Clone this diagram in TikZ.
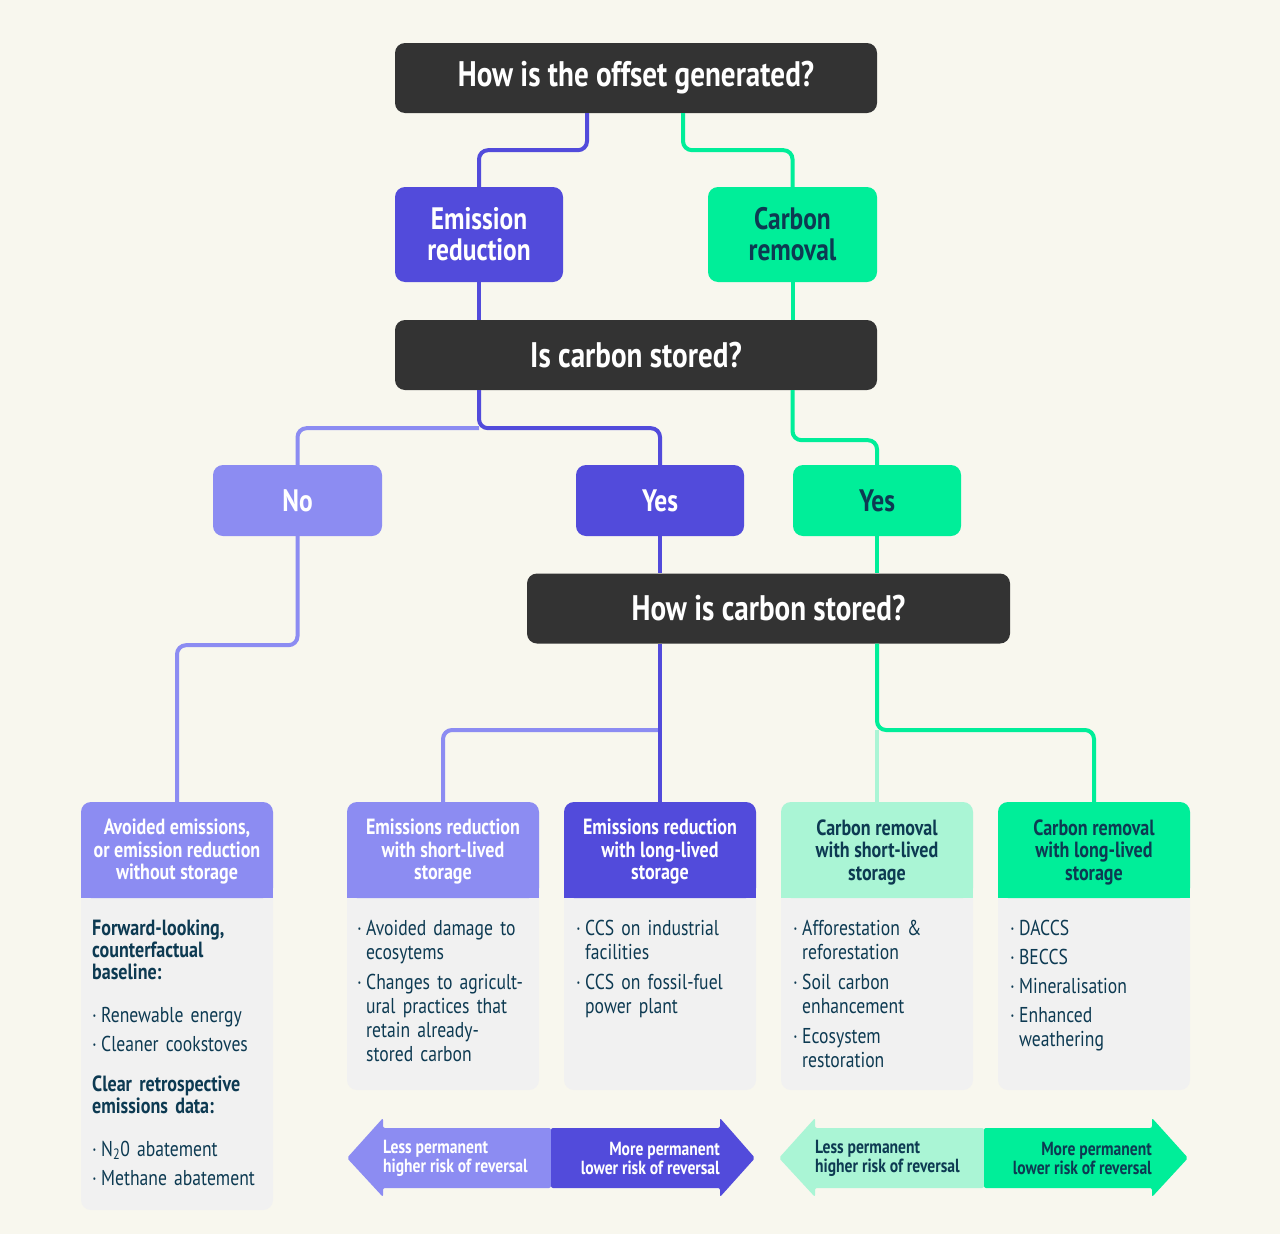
\documentclass[tikz,border=0pt]{standalone}
\usepackage{fontspec}
\setmainfont{PT Sans}[FakeStretch=0.82]
\usetikzlibrary{calc}
\definecolor{bg}{HTML}{F8F7EE}
\definecolor{dark}{HTML}{333333}
\definecolor{pur}{HTML}{524BDB}
\definecolor{lpur}{HTML}{8C8CF2}
\definecolor{grn}{HTML}{00EE99}
\definecolor{lgrn}{HTML}{AAF5D5}
\definecolor{navy}{HTML}{0D3A52}
\definecolor{bodyg}{HTML}{F1F1F1}
\newcommand\bi[1]{\par\noindent\makebox[9pt][l]{·}\parbox[t]{165pt}{\raggedright\strut #1\strut}\par\vspace{5pt}}
\begin{document}
\begin{tikzpicture}[x=1pt,y=-1pt,
  q/.style={fill=dark, rounded corners=10pt, text=white, font=\bfseries\fontsize{35.5}{37}\selectfont, minimum height=70pt, inner sep=0pt},
  cbox/.style={rounded corners=10pt, align=center, inner sep=0pt, font=\bfseries\fontsize{31}{31}\selectfont},
  hdrtxt/.style={align=center, inner sep=0pt, font=\bfseries\fontsize{22}{22.5}\selectfont},
  hdr/.style={rounded corners=10pt, inner sep=0pt, minimum width=192pt, minimum height=96pt},
  bodytxt/.style={anchor=north west, text width=176pt, align=left, inner sep=0pt, text=navy, font=\fontsize{21.5}{24}\selectfont},
  headtxt/.style={anchor=north west, text width=176pt, align=left, inner sep=0pt, text=navy, font=\bfseries\fontsize{22}{22}\selectfont},
  ln/.style={line width=4pt, rounded corners=9pt},
  arrtxt/.style={align=left, inner sep=0pt, font=\bfseries\fontsize{19}{19}\selectfont}
]
\fill[bg] (0,0) rectangle (1280,1234);
\useasboundingbox (0,0) rectangle (1280,1234);

% question boxes
\node[q, minimum width=482pt] (t1) at (636,78) {How is the offset generated?};
\node[q, minimum width=482pt] (t2) at (636,355) {Is carbon stored?};
\node[q, minimum width=483pt] (t3) at (768.5,608.5) {How is carbon stored?};

% category boxes
\node[cbox, fill=pur, text=white, minimum width=168pt, minimum height=95pt] (er) at (479,234.5) {Emission\\reduction};
\node[cbox, fill=grn, text=navy, minimum width=169pt, minimum height=95pt] (cr) at (792.5,234.5) {Carbon\\removal};
\node[cbox, fill=lpur, text=white, minimum width=169pt, minimum height=71pt] (no) at (297.5,500.5) {No};
\node[cbox, fill=pur, text=white, minimum width=168pt, minimum height=71pt] (yes1) at (660,500.5) {Yes};
\node[cbox, fill=grn, text=navy, minimum width=168pt, minimum height=71pt] (yes2) at (877,500.5) {Yes};

% bottom cards: bodies
\fill[bodyg, rounded corners=10pt] (81,802) rectangle (273,1210);
\fill[bodyg, rounded corners=10pt] (347,802) rectangle (539,1090);
\fill[bodyg, rounded corners=10pt] (564,802) rectangle (756,1090);
\fill[bodyg, rounded corners=10pt] (781,802) rectangle (973,1090);
\fill[bodyg, rounded corners=10pt] (998,802) rectangle (1190,1090);

% headers
\node[hdr, fill=lpur] (A) at (177,850) {};
\fill[lpur] (A.west) rectangle (A.south east);
\node[hdrtxt, text=white] (At) at (177,852) {Avoided emissions,\\or emission reduction\\without storage};
\node[hdr, fill=lpur] (B) at (443,850) {};
\fill[lpur] (B.west) rectangle (B.south east);
\node[hdrtxt, text=white] (Bt) at (443,852) {Emissions reduction\\with short-lived\\storage};
\node[hdr, fill=pur] (C) at (660,850) {};
\fill[pur] (C.west) rectangle (C.south east);
\node[hdrtxt, text=white] (Ct) at (660,852) {Emissions reduction\\with long-lived\\storage};
\node[hdr, fill=lgrn] (D) at (877,850) {};
\fill[lgrn] (D.west) rectangle (D.south east);
\node[hdrtxt, text=navy] (Dt) at (877,852) {Carbon removal\\with short-lived\\storage};
\node[hdr, fill=grn] (E) at (1094,850) {};
\fill[grn] (E.west) rectangle (E.south east);
\node[hdrtxt, text=navy] (Et) at (1094,852) {Carbon removal\\with long-lived\\storage};

% body texts
\node[headtxt] (A1) at (92,920) {Forward-looking,\\counterfactual\\baseline:};
\node[bodytxt] (A2) at (92,998) {\bi{Renewable energy}\bi{Cleaner cookstoves}};
\node[headtxt] (A3) at (92,1076) {Clear retrospective\\emissions data:};
\node[bodytxt] (A4) at (92,1132) {\bi{N\textsubscript{2}0 abatement}\bi{Methane abatement}};
\node[bodytxt] (Bb) at (357,911) {\bi{Avoided damage to\\ecosytems}\bi{Changes to agricult-\\ural practices that\\retain already-\\stored carbon}};
\node[bodytxt] (Cb) at (576,911) {\bi{CCS on industrial\\facilities}\bi{CCS on fossil-fuel\\power plant}};
\node[bodytxt] (Db) at (793,911) {\bi{Afforestation \&\\reforestation}\bi{Soil carbon\\enhancement}\bi{Ecosystem\\restoration}};
\node[bodytxt] (Eb) at (1010,911) {\bi{DACCS}\bi{BECCS}\bi{Mineralisation}\bi{Enhanced\\weathering}};

% connectors
\draw[ln, pur] ([xshift=-49pt]t1.south) -- ++(0,37) -| (er.north);
\draw[ln, grn] ([xshift=47pt]t1.south) -- ++(0,37) -| (cr.north);
\draw[ln, pur] (er.south) -- (er.south |- t2.north);
\draw[ln, grn] (cr.south) -- (cr.south |- t2.north);
\coordinate (j1) at ($(t2.south -| er.south)+(0,38)$);
\draw[ln, lpur] (j1) -| (no.north);
\draw[ln, pur] (t2.south -| er.south) -- (j1) -| (yes1.north);
\draw[ln, grn] (t2.south -| cr.south) -- ++(0,50) -| (yes2.north);
\draw[ln, lpur] (no.south) -- ++(0,109) -| (A.north);
\draw[ln, pur] (yes1.south) -- (yes1.south |- t3.north);
\draw[ln, grn] (yes2.south) -- (yes2.south |- t3.north);
\coordinate (j2) at (660,730);
\draw[ln, lpur] (j2) -| (B.north);
\draw[ln, pur] (t3.south -| C.north) -- (C.north);
\coordinate (j3) at (877,730);
\draw[ln, lgrn] (j3) -- (D.north);
\draw[ln, grn] (t3.south -| D.north) -- (j3) -| (E.north);

% permanence arrows
\fill[lpur, rounded corners=2pt] (347,1158) -- (383,1118) -- (383,1128) -- (551,1128) -- (551,1188) -- (383,1188) -- (383,1197) -- cycle;
\fill[pur, rounded corners=2pt] (755,1158) -- (720,1118) -- (720,1128) -- (551,1128) -- (551,1188) -- (720,1188) -- (720,1197) -- cycle;
\fill[lgrn, rounded corners=2pt] (779,1158) -- (815,1118) -- (815,1128) -- (984,1128) -- (984,1188) -- (815,1188) -- (815,1197) -- cycle;
\fill[grn, rounded corners=2pt] (1188,1158) -- (1152,1118) -- (1152,1128) -- (984,1128) -- (984,1188) -- (1152,1188) -- (1152,1197) -- cycle;
\node[arrtxt, anchor=west, text=white] (l1) at (383,1158) {Less permanent\\higher risk of reversal};
\node[arrtxt, anchor=east, align=right, text=white] (r1) at (720,1158) {More permanent\\lower risk of reversal};
\node[arrtxt, anchor=west, text=navy] (l2) at (815,1158) {Less permanent\\higher risk of reversal};
\node[arrtxt, anchor=east, align=right, text=navy] (r2) at (1152,1158) {More permanent\\lower risk of reversal};
\end{tikzpicture}
\end{document}
